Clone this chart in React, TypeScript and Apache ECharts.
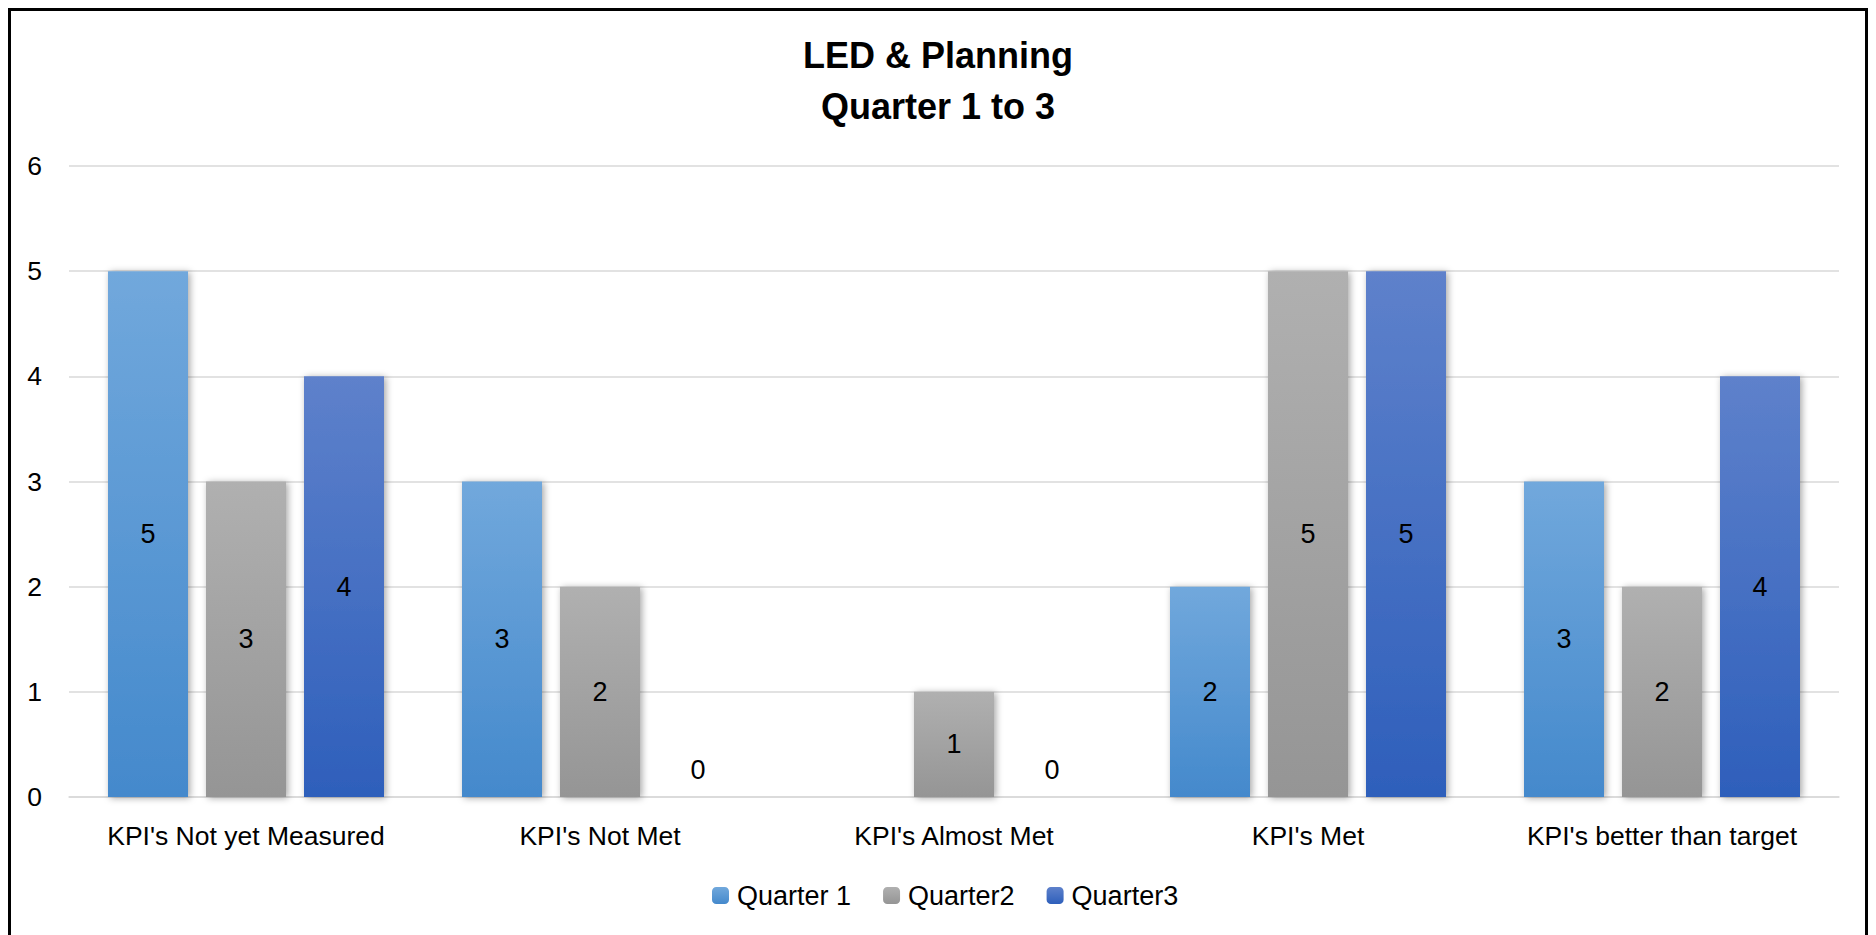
import React, { useEffect, useRef } from "react";
import * as echarts from "echarts";

const categories = [
  "KPI's Not yet Measured",
  "KPI's Not Met",
  "KPI's Almost Met",
  "KPI's Met",
  "KPI's better than target",
];
const seriesNames = ["Quarter 1", "Quarter2", "Quarter3"];
const quarter1: (number | null)[] = [5, 3, null, 2, 3];
const quarter2: (number | null)[] = [3, 2, 1, 5, 2];
const quarter3: (number | null)[] = [4, 0, 0, 5, 4];
const titleLines = ["LED & Planning", "Quarter 1 to 3"];
const yMin = 0;
const yMax = 6;
const yStep = 1;

const FONT = "'Liberation Sans', Arial, sans-serif";

const gradients = [
  ["#71A8DC", "#4489CC"],
  ["#B0B0B0", "#959595"],
  ["#5E81CB", "#2E5FBB"],
];

function grad(top: string, bottom: string) {
  return new echarts.graphic.LinearGradient(0, 0, 0, 1, [
    { offset: 0, color: top },
    { offset: 1, color: bottom },
  ]);
}

export default function App() {
  const ref = useRef<HTMLDivElement>(null);

  useEffect(() => {
    if (!ref.current) return;
    const chart = echarts.init(ref.current, undefined, { renderer: "svg" });
    const all = [quarter1, quarter2, quarter3];

    const series = all.map((vals, i) => ({
      name: seriesNames[i],
      type: "bar",
      barWidth: 80,
      barGap: "22.5%",
      data: vals.map((v) =>
        v === 0
          ? { value: v, label: { position: "top", distance: 14 } }
          : v
      ),
      itemStyle: {
        color: grad(gradients[i][0], gradients[i][1]),
        shadowBlur: 7,
        shadowColor: "rgba(0,0,0,0.35)",
        shadowOffsetX: 2,
        shadowOffsetY: 1,
      },
      label: {
        show: true,
        position: "inside",
        color: "#000",
        fontFamily: FONT,
        fontSize: 27,
      },
    }));

    chart.setOption({
      animation: false,
      backgroundColor: "#fff",
      title: {
        text: titleLines.join("\n"),
        left: "center",
        top: 30,
        padding: 0,
        textStyle: {
          fontFamily: FONT,
          fontSize: 36,
          fontWeight: "bold",
          lineHeight: 51,
          color: "#000",
        },
      },
      legend: {
        data: seriesNames,
        left: 712,
        top: 882,
        padding: 0,
        itemWidth: 17,
        itemHeight: 17,
        itemGap: 32,
        textStyle: {
          fontFamily: FONT,
          fontSize: 27,
          color: "#000",
          padding: [0, 0, 0, 3],
        },
      },
      grid: {
        left: 69,
        right: 37,
        top: 166,
        bottom: 138,
        containLabel: false,
      },
      xAxis: {
        type: "category",
        data: categories,
        axisLine: { show: true, lineStyle: { color: "#d9d9d9", width: 1.5 } },
        axisTick: { show: false },
        axisLabel: {
          margin: 25,
          fontFamily: FONT,
          fontSize: 26.5,
          color: "#000",
          interval: 0,
        },
      },
      yAxis: {
        type: "value",
        min: yMin,
        max: yMax,
        interval: yStep,
        axisLine: { show: false },
        axisTick: { show: false },
        splitLine: { lineStyle: { color: "#d9d9d9", width: 1.5 } },
        axisLabel: {
          margin: 27,
          fontFamily: FONT,
          fontSize: 26.5,
          color: "#000",
        },
      },
      graphic: [
        {
          type: "rect",
          shape: { x: 9.5, y: 9.5, width: 1857, height: 1000 },
          style: { fill: "none", stroke: "#000", lineWidth: 3 },
          silent: true,
          z: 100,
        },
      ],
      series,
    });

    return () => chart.dispose();
  }, []);

  return (
    <div
      ref={ref}
      style={{ position: "fixed", left: 0, top: 0, width: 1876, height: 935 }}
    />
  );
}
